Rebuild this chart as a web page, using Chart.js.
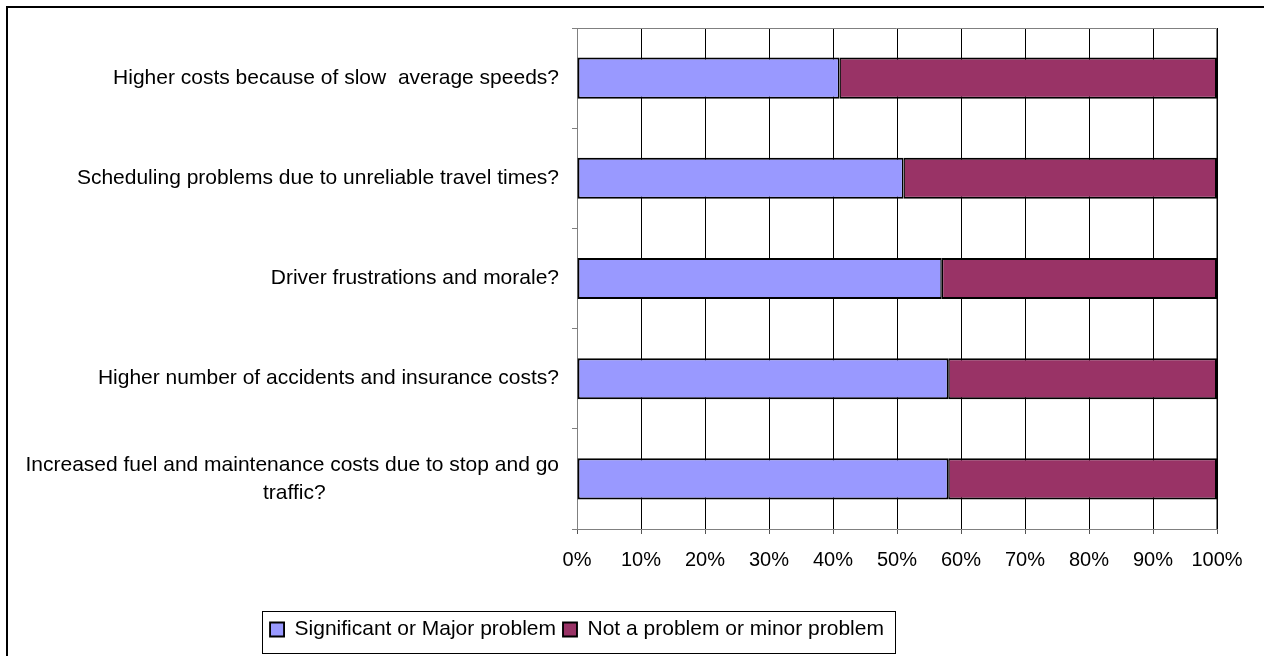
<!DOCTYPE html>
<html>
<head>
<meta charset="utf-8">
<script src="https://cdn.jsdelivr.net/npm/chart.js@4"></script>
<style>
  html, body { margin: 0; padding: 0; background: #fff; }
  canvas { display: block; }
</style>
</head>
<body>
<canvas id="c" width="1264" height="656"></canvas>
<script>
// ---- data ----
const categories = [
  "Higher costs because of slow  average speeds?",
  "Scheduling problems due to unreliable travel times?",
  "Driver frustrations and morale?",
  "Higher number of accidents and insurance costs?",
  ["Increased fuel and maintenance costs due to stop and go", "traffic?"]
];
const seriesNames = ["Significant or Major problem", "Not a problem or minor problem"];
const significant = [41, 51, 57, 58, 58];
const notProblem = [59, 49, 43, 42, 42];
const xTicks = [0, 10, 20, 30, 40, 50, 60, 70, 80, 90, 100];

// ---- styling ----
const FONT = '"Liberation Sans", Arial, sans-serif';
const LABEL_SIZE = 21;
const measure = document.createElement('canvas').getContext('2d');
measure.font = LABEL_SIZE + 'px ' + FONT;
function centerLines(label) {
  if (!Array.isArray(label)) return label;
  const w = Math.max(...label.map(l => measure.measureText(l).width));
  const sp = measure.measureText(' ').width;
  return label.map(l => l + ' '.repeat(Math.round((w - measure.measureText(l).width) / 2 / sp)));
}

const frame = {
  id: 'frame',
  afterLayout(chart) {
    const lg = chart.legend;
    if (lg) {
      const shift = 577 - (lg.left + lg.right) / 2;
      lg.left += shift; lg.right += shift;
    }
  },
  beforeDraw(chart) {
    const ctx = chart.ctx;
    ctx.save();
    ctx.fillStyle = '#fff';
    ctx.fillRect(0, 0, chart.width, chart.height);
    ctx.strokeStyle = '#000';
    ctx.lineWidth = 2;
    ctx.strokeRect(7, 7, chart.width + 20, chart.height + 20);
    ctx.restore();
  },
  beforeDatasetsDraw(chart) {
    const ctx = chart.ctx, a = chart.chartArea;
    ctx.save();
    ctx.strokeStyle = '#808080';
    ctx.lineWidth = 1;
    ctx.beginPath();
    ctx.moveTo(Math.round(a.left), Math.round(a.top) + 0.5);
    ctx.lineTo(Math.round(a.right) - 0.5, Math.round(a.top) + 0.5);
    ctx.lineTo(Math.round(a.right) - 0.5, Math.round(a.bottom));
    ctx.stroke();
    ctx.restore();
  },
  afterDraw(chart) {
    const lg = chart.legend;
    if (!lg || !lg.legendHitBoxes || !lg.legendHitBoxes.length) return;
    const hb = lg.legendHitBoxes;
    const first = hb[0], last = hb[hb.length - 1];
    const ctx = chart.ctx;
    ctx.save();
    ctx.strokeStyle = '#000';
    ctx.lineWidth = 1;
    const l = Math.round(first.left - 8) + 0.5;
    const r = Math.round(last.left + last.width + 11) + 0.5;
    const t = Math.round(first.top - 8) + 0.5;
    const b = Math.round(first.top + first.height + 13) + 0.5;
    ctx.strokeRect(l, t, r - l, b - t);
    ctx.restore();
  }
};

new Chart(document.getElementById('c'), {
  type: 'bar',
  data: {
    labels: categories.map(centerLines),
    datasets: [
      {
        label: seriesNames[0],
        data: significant,
        backgroundColor: '#9999FF',
        borderColor: '#000',
        borderWidth: { top: 2, bottom: 2, left: 2, right: 1.5 },
        borderSkipped: false,
        barPercentage: 0.41,
        categoryPercentage: 1
      },
      {
        label: seriesNames[1],
        data: notProblem,
        backgroundColor: '#993366',
        borderColor: '#000',
        borderWidth: { top: 2, bottom: 2, left: 1.5, right: 2 },
        borderSkipped: false,
        barPercentage: 0.41,
        categoryPercentage: 1
      }
    ]
  },
  options: {
    indexAxis: 'y',
    responsive: false,
    animation: false,
    devicePixelRatio: 1,
    layout: { padding: { top: 28, right: 47, bottom: 6, left: 0 } },
    scales: {
      x: {
        stacked: true,
        min: 0, max: 100,
        afterBuildTicks(scale) { scale.ticks = xTicks.map(v => ({ value: v })); },
        afterFit(scale) { scale.height = 83; },
        ticks: {
          color: '#000',
          padding: 14,
          maxRotation: 0,
          autoSkip: false,
          font: { family: FONT, size: 20 },
          callback: v => v + '%'
        },
        grid: { color: '#000', lineWidth: 1, tickLength: 5, tickColor: '#555', drawOnChartArea: true },
        border: { display: true, color: '#808080', width: 1 }
      },
      y: {
        stacked: true,
        afterFit(scale) {
          scale.width = 577;
          scale.paddingTop = 0;
          scale.paddingBottom = 0;
        },
        ticks: {
          color: '#000',
          padding: 13,
          autoSkip: false,
          font: { family: FONT, size: LABEL_SIZE, lineHeight: 1.33 }
        },
        grid: { offset: true, drawOnChartArea: false, drawTicks: true, tickLength: 5, tickColor: '#808080' },
        border: { display: true, color: '#808080', width: 1 }
      }
    },
    plugins: {
      legend: {
        position: 'bottom',
        labels: {
          color: '#000',
          boxWidth: 14,
          boxHeight: 14,
          padding: 7,
          font: { family: FONT, size: 21 }
        }
      },
      tooltip: { enabled: false }
    }
  },
  plugins: [frame]
});
</script>
</body>
</html>
